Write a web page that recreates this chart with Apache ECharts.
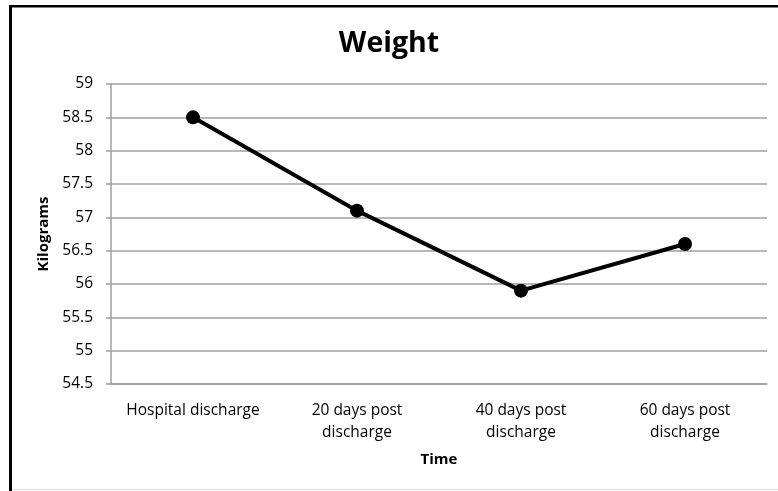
<!DOCTYPE html>
<html><head><meta charset="utf-8">
<script src="https://cdn.jsdelivr.net/npm/echarts@6/dist/echarts.min.js"></script>
<style>html,body{margin:0;padding:0;background:#fff}#c{width:778px;height:491px}</style>
</head><body><div id="c"></div>
<script>
const categories = ['Hospital discharge', '20 days post\ndischarge', '40 days post\ndischarge', '60 days post\ndischarge'];
const weights = [58.5, 57.1, 55.9, 56.6];
const yMin = 54.5, yMax = 59, yStep = 0.5;

const FONT = 'Open Sans';
const chart = echarts.init(document.getElementById('c'), null, {renderer: 'canvas'});
chart.setOption({
  animation: false,
  backgroundColor: '#fff',
  title: {
    text: 'Weight', left: 'center', top: 24,
    textStyle: {fontFamily: FONT, fontSize: 28.5, fontWeight: 'bold', color: '#000'}
  },
  grid: {left: 111, right: 11, top: 84, bottom: 107, containLabel: false},
  xAxis: {
    type: 'category', data: categories, boundaryGap: true,
    name: 'Time', nameLocation: 'middle', nameGap: 68,
    nameTextStyle: {fontFamily: FONT, fontSize: 15, fontWeight: 'bold', color: '#000'},
    axisLine: {lineStyle: {color: '#a0a0a0', width: 1.5}},
    axisTick: {show: false},
    axisLabel: {fontFamily: FONT, fontSize: 15.5, color: '#000', margin: 16, lineHeight: 22, interval: 0}
  },
  yAxis: {
    type: 'value', min: yMin, max: yMax, interval: yStep,
    name: 'Kilograms', nameLocation: 'middle', nameGap: 58, nameRotate: 90,
    nameTextStyle: {fontFamily: FONT, fontSize: 15, fontWeight: 'bold', color: '#000'},
    axisLine: {show: true, lineStyle: {color: '#a0a0a0', width: 1.5}},
    axisTick: {show: true, length: 5, lineStyle: {color: '#a0a0a0', width: 1.5}},
    axisLabel: {fontFamily: FONT, fontSize: 15.5, color: '#000', margin: 18},
    splitLine: {lineStyle: {color: '#a0a0a0', width: 1.5}}
  },
  series: [{
    type: 'line', data: weights,
    symbol: 'circle', symbolSize: 14,
    lineStyle: {color: '#000', width: 4},
    itemStyle: {color: '#000'}
  }],
  graphic: [
    {type: 'rect', shape: {x: 9, y: 5, width: 3, height: 486}, style: {fill: '#000'}, silent: true},
    {type: 'rect', shape: {x: 9, y: 5, width: 769, height: 2.5}, style: {fill: '#000'}, silent: true},
    {type: 'rect', shape: {x: 12, y: 489, width: 766, height: 1}, style: {fill: '#dddddd'}, silent: true}
  ]
});
</script></body></html>
